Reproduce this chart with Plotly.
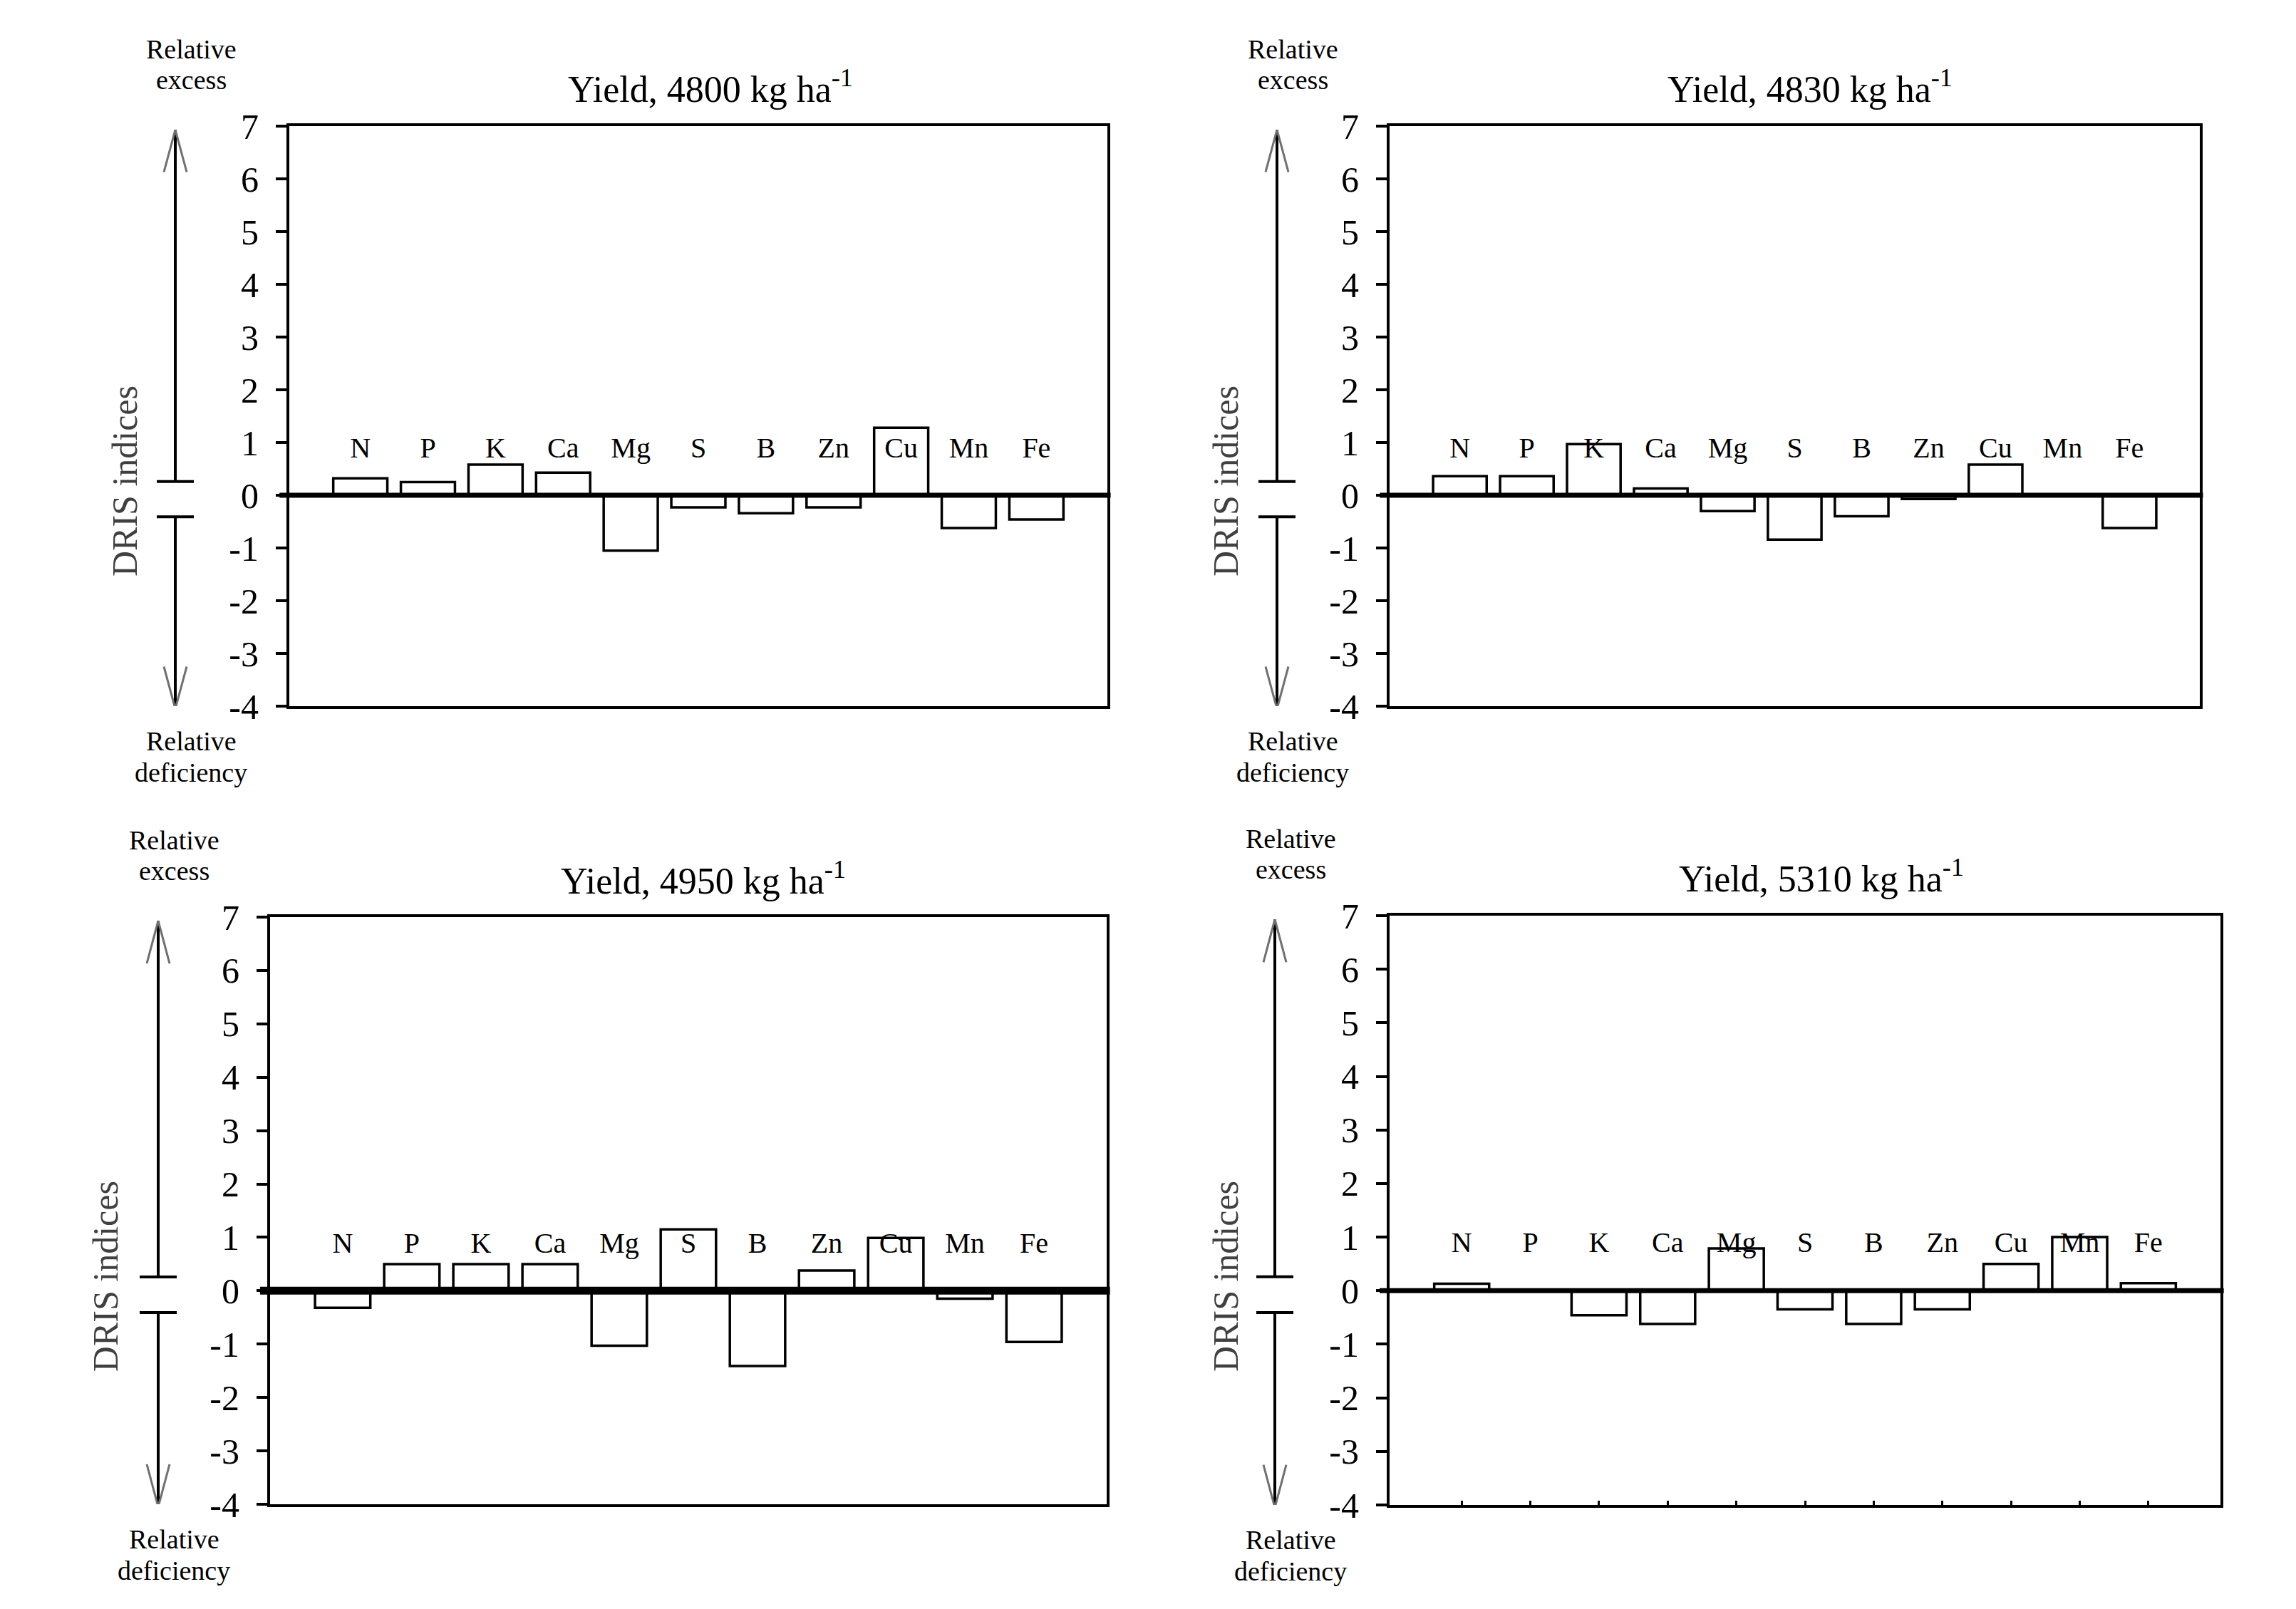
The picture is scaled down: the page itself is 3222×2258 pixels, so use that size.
import plotly.graph_objects as go

# DRIS indices (one value per nutrient)
elements = ["N", "P", "K", "Ca", "Mg", "S", "B", "Zn", "Cu", "Mn", "Fe"]
yields = ["4800", "4830", "4950", "5310"]

dris_4800 = [0.32, 0.25, 0.58, 0.43, -1.05, -0.23, -0.34, -0.23, 1.28, -0.62, -0.46]
dris_4830 = [0.36, 0.36, 0.97, 0.13, -0.30, -0.84, -0.40, -0.07, 0.58, 0.0, -0.62]
dris_4950 = [-0.32, 0.50, 0.50, 0.50, -1.03, 1.15, -1.41, 0.38, 0.99, -0.15, -0.96]
dris_5310 = [0.13, 0.0, -0.46, -0.62, 0.79, -0.35, -0.62, -0.35, 0.50, 1.00, 0.14]

y_tick_vals = [-4, -3, -2, -1, 0, 1, 2, 3, 4, 5, 6, 7]
y_tick_text = ["-4", "-3", "-2", "-1", "0", "1", "2", "3", "4", "5", "6", "7"]

W, H = 3222, 2258
FONT = "Liberation Serif"
LABEL_Y = 0.85  # height of the nutrient names inside the plot

# pixel geometry of each panel: box left/right/top/bottom, title x, axis title x, arrow x
panels = [
    dict(values=dris_4800, yld=yields[0], box=(398, 1546, 169, 983), title_x=989, ytitle_x=167, arrow_x=238, zero_w=7, ticks=False),
    dict(values=dris_4830, yld=yields[1], box=(1942, 3079, 169, 983), title_x=2532, ytitle_x=1712, arrow_x=1784, zero_w=7, ticks=False),
    dict(values=dris_4950, yld=yields[2], box=(371, 1545, 1279, 2103), title_x=979, ytitle_x=140, arrow_x=214, zero_w=11, ticks=False),
    dict(values=dris_5310, yld=yields[3], box=(1942, 3108, 1277, 2104), title_x=2548, ytitle_x=1712, arrow_x=1781, zero_w=7, ticks=True),
]


def px(x):
    return x / W


def py(y):
    return 1 - y / H


def note(text, x, y, size=38):
    return dict(text=text, xref="paper", yref="paper", x=px(x), y=py(y),
                xanchor="center", yanchor="middle", showarrow=False,
                font=dict(family=FONT, size=size, color="black"))


fig = go.Figure()
annotations = []
shapes = []

for i, p in enumerate(panels):
    n = "" if i == 0 else str(i + 1)
    xa, ya = "x" + n, "y" + n
    left, right, top, bottom = p["box"]

    fig.add_trace(go.Bar(
        x=elements, y=p["values"], xaxis=xa, yaxis=ya, width=0.8,
        marker=dict(color="white", line=dict(color="black", width=3.5)),
        showlegend=False, hoverinfo="x+y",
    ))
    fig.add_trace(go.Scatter(
        x=elements, y=[LABEL_Y] * len(elements), xaxis=xa, yaxis=ya,
        mode="text", text=elements, cliponaxis=False,
        textfont=dict(family=FONT, size=40, color="black"),
        showlegend=False, hoverinfo="skip",
    ))

    fig.layout["xaxis" + n] = dict(
        domain=[px(left), px(right)], anchor=ya, type="category", automargin=False,
        range=[-1.05, len(elements) - 1 + 1.05],
        showline=True, mirror=True, linecolor="black", linewidth=4,
        showgrid=False, zeroline=False, showticklabels=False,
        ticks="inside" if p["ticks"] else "", ticklen=6, tickwidth=3, tickcolor="black",
    )
    fig.layout["yaxis" + n] = dict(
        domain=[py(bottom), py(top)], anchor=xa, range=[-4, 7], automargin=False,
        tickvals=y_tick_vals, ticktext=y_tick_text,
        ticks="outside", ticklen=15, tickwidth=4, tickcolor="black",
        showline=True, mirror=True, linecolor="black", linewidth=4,
        showgrid=False, zeroline=False, ticklabelstandoff=14,
        tickfont=dict(family=FONT, size=50, color="black"),
    )

    # thick zero line running slightly past the frame
    shapes.append(dict(type="line", xref=xa + " domain", yref=ya, x0=-0.012, x1=1.004, y0=0, y1=0,
                       line=dict(color="black", width=p["zero_w"]), layer="above"))

    # excess / deficiency arrows on the left
    ax = px(p["arrow_x"])
    bar_half = px(26)
    head_dx = px(16)
    for y0, y1, tip in [(0.26, 6.93, 6.93), (-0.41, -4.05, -4.05)]:
        shapes.append(dict(type="line", xref="paper", yref=ya, x0=ax, x1=ax, y0=y0, y1=y1,
                           line=dict(color="black", width=4)))
        shapes.append(dict(type="line", xref="paper", yref=ya, x0=ax - bar_half, x1=ax + bar_half, y0=y0, y1=y0,
                           line=dict(color="black", width=4)))
        back = tip - 0.8 if tip > 0 else tip + 0.8
        for s in (-1, 1):
            shapes.append(dict(type="line", xref="paper", yref=ya, x0=ax, x1=ax + s * head_dx, y0=tip, y1=back,
                               line=dict(color="#707070", width=3)))

    annotations.append(note("Yield, %s kg ha<sup>-1</sup>" % p["yld"], p["title_x"], top - 55, size=52))
    annotations.append(dict(
        text="DRIS indices", xref="paper", yref=ya, textangle=-90,
        x=px(p["ytitle_x"]), y=0.27, xanchor="center", yanchor="middle",
        showarrow=False, font=dict(family=FONT, size=50, color="#404040"),
    ))
    tx = p["arrow_x"] + 22
    annotations.append(note("Relative", tx, top - 108))
    annotations.append(note("excess", tx, top - 65))
    annotations.append(note("Relative", tx, bottom + 49))
    annotations.append(note("deficiency", tx, bottom + 93))

fig.update_layout(
    width=W, height=H, margin=dict(l=0, r=0, t=0, b=0),
    paper_bgcolor="white", plot_bgcolor="white",
    annotations=annotations, shapes=shapes,
    font=dict(family=FONT),
)

fig.write_html("out.html")
